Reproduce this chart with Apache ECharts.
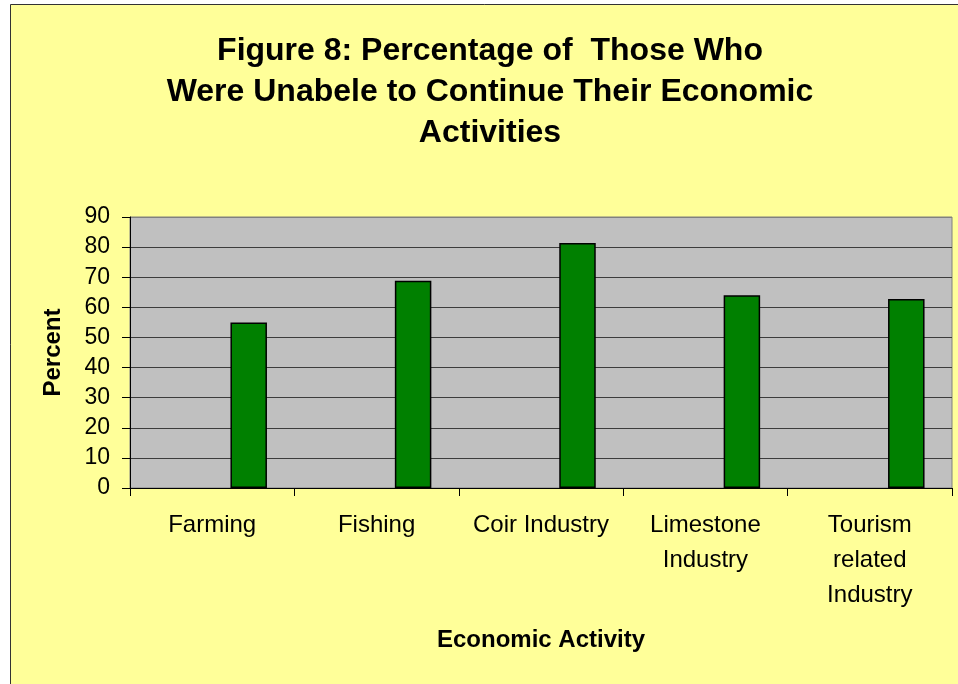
<!DOCTYPE html>
<html>
<head>
<meta charset="utf-8">
<script src="https://cdn.jsdelivr.net/npm/echarts@6/dist/echarts.min.js"></script>
<style>
html,body{margin:0;padding:0;background:#ffffff;}
#chart{width:958px;height:684px;}
</style>
</head>
<body>
<div id="chart"></div>
<script>
const titleLines = ['Figure 8: Percentage of  Those Who', 'Were Unabele to Continue Their Economic', 'Activities'];
const categories = ['Farming', 'Fishing', 'Coir Industry', 'Limestone\nIndustry', 'Tourism\nrelated\nIndustry'];
const spacerValues = [null, null, null, null, null];
const percentValues = [55, 68.8, 81.4, 64, 62.8];
const yTicks = [0, 10, 20, 30, 40, 50, 60, 70, 80, 90];
const xAxisName = 'Economic Activity';
const yAxisName = 'Percent';

const FONT = '"Liberation Sans", Arial, Helvetica, sans-serif';
const chart = echarts.init(document.getElementById('chart'));
const gridColors = yTicks.map((t, i) => i === yTicks.length - 1 ? '#808080' : '#3c3c3c');

chart.setOption({
  backgroundColor: '#ffffff',
  animation: false,
  graphic: [{
    type: 'rect', z: -100, silent: true,
    shape: { x: 10.5, y: 4.5, width: 980, height: 700 },
    style: { fill: '#FFFF99', stroke: '#333333', lineWidth: 1 }
  }],
  title: {
    text: titleLines.join('\n'),
    left: 490, top: 31, textAlign: 'center', padding: 0,
    textStyle: { fontFamily: FONT, fontSize: 32, fontWeight: 'bold', color: '#000', lineHeight: 41 }
  },
  grid: {
    left: 130, right: 6, top: 217, bottom: 196,
    show: true, backgroundColor: '#C0C0C0', borderColor: '#808080', borderWidth: 1
  },
  xAxis: {
    type: 'category',
    data: categories,
    name: xAxisName,
    nameLocation: 'middle',
    nameGap: 152,
    nameTextStyle: { fontFamily: FONT, fontSize: 24, fontWeight: 'bold', color: '#000', verticalAlign: 'middle' },
    axisLine: { lineStyle: { color: '#000', width: 1 } },
    axisTick: { show: true, length: 8, lineStyle: { color: '#000' } },
    axisLabel: { interval: 0, margin: 20, fontFamily: FONT, fontSize: 24, color: '#000', lineHeight: 35 },
    splitLine: { show: false }
  },
  yAxis: {
    type: 'value',
    min: yTicks[0], max: yTicks[yTicks.length - 1], interval: 10,
    name: yAxisName,
    nameLocation: 'middle',
    nameRotate: 90,
    nameGap: 77,
    nameTextStyle: { fontFamily: FONT, fontSize: 24, fontWeight: 'bold', color: '#000', verticalAlign: 'middle' },
    axisLine: { show: true, lineStyle: { color: '#000', width: 1 } },
    axisTick: { show: true, length: 8, lineStyle: { color: '#000' } },
    axisLabel: { margin: 20, fontFamily: FONT, fontSize: 23, color: '#000' },
    splitLine: { show: true, lineStyle: { color: gridColors, width: 1 } }
  },
  series: [
    { type: 'bar', name: 'spacer', data: spacerValues, barWidth: 36.5, barGap: '100%' },
    { type: 'bar', name: 'Percent', data: percentValues, barWidth: 36.5, barGap: '100%',
      itemStyle: { color: '#008000', borderColor: '#000', borderWidth: 1.5 } }
  ]
});
</script>
</body>
</html>
